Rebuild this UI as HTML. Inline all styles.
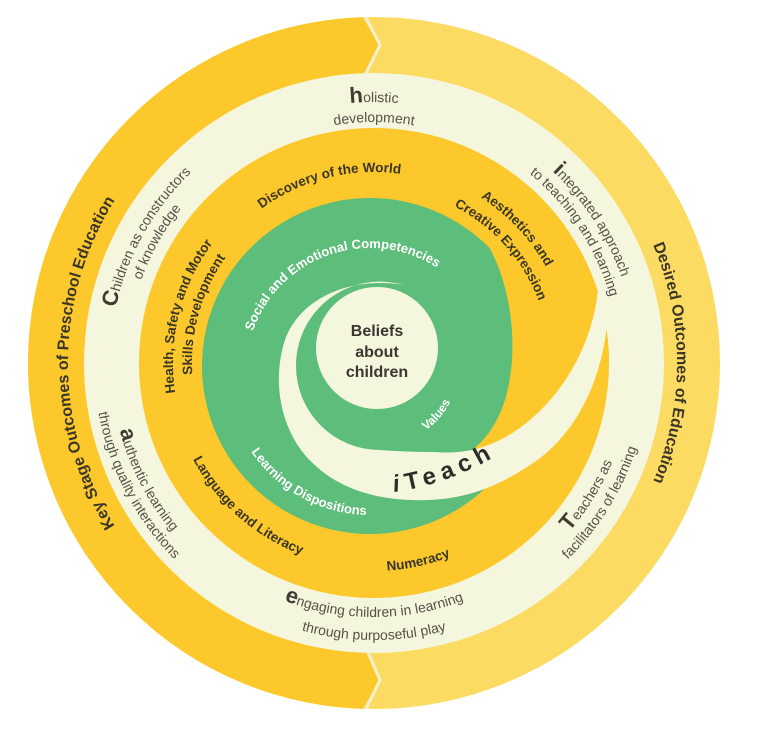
<!DOCTYPE html>
<html><head><meta charset="utf-8"><style>
html,body{margin:0;padding:0;background:#fff;}
svg{display:block;}
.ob{font-family:"Liberation Sans",sans-serif;font-weight:bold;fill:#3a3626;}
.cr{font-family:"Liberation Sans",sans-serif;fill:#555248;font-size:14px;}
.cr .big{font-weight:bold;font-size:22px;fill:#3e3b31;}
.yb{font-family:"Liberation Sans",sans-serif;font-weight:bold;fill:#3a3626;font-size:13.5px;}
.gt{font-family:"Liberation Sans",sans-serif;font-weight:bold;fill:#ffffff;font-size:13px;}
</style></head><body>
<svg width="764" height="733" viewBox="0 0 764 733" xmlns="http://www.w3.org/2000/svg">
<defs>
<clipPath id="outer"><circle cx="374" cy="363" r="346"/></clipPath>
<clipPath id="inner235"><circle cx="374" cy="363" r="235"/></clipPath>
<path id="cw306" d="M374,669 A306,306 0 1 1 374,57 A306,306 0 1 1 374,669"/>
<path id="cw303" d="M374,666 A303,303 0 1 1 374,60 A303,303 0 1 1 374,666"/>
<path id="cw262" d="M374,625 A262,262 0 1 1 374,101 A262,262 0 1 1 374,625"/>
<path id="cw245" d="M374,608 A245,245 0 1 1 374,118 A245,245 0 1 1 374,608"/>
<path id="cw261" d="M374,624 A261,261 0 1 1 374,102 A261,261 0 1 1 374,624"/>
<path id="cw241" d="M374,604 A241,241 0 1 1 374,122 A241,241 0 1 1 374,604"/>
<path id="cw264" d="M374,627 A264,264 0 1 1 374,99 A264,264 0 1 1 374,627"/>
<path id="cw247" d="M374,610 A247,247 0 1 1 374,116 A247,247 0 1 1 374,610"/>
<path id="cw191" d="M374,554 A191,191 0 1 1 374,172 A191,191 0 1 1 374,554"/>
<path id="cw197" d="M374,560 A197,197 0 1 1 374,166 A197,197 0 1 1 374,560"/>
<path id="cw176" d="M374,539 A176,176 0 1 1 374,187 A176,176 0 1 1 374,539"/>
<path id="cw201" d="M374,564 A201,201 0 1 1 374,162 A201,201 0 1 1 374,564"/>
<path id="cw182" d="M374,545 A182,182 0 1 1 374,181 A182,182 0 1 1 374,545"/>
<path id="cwg124" d="M370,496 A124,124 0 1 1 370,248 A124,124 0 1 1 370,496"/>
<path id="ccw263" d="M374,100 A263,263 0 1 0 374,626 A263,263 0 1 0 374,100"/>
<path id="ccw280" d="M374,83 A280,280 0 1 0 374,643 A280,280 0 1 0 374,83"/>
<path id="ccw254" d="M374,109 A254,254 0 1 0 374,617 A254,254 0 1 0 374,109"/>
<path id="ccw277" d="M374,86 A277,277 0 1 0 374,640 A277,277 0 1 0 374,86"/>
<path id="ccw258" d="M374,105 A258,258 0 1 0 374,621 A258,258 0 1 0 374,105"/>
<path id="ccw276" d="M374,87 A276,276 0 1 0 374,639 A276,276 0 1 0 374,87"/>
<path id="ccw205" d="M374,158 A205,205 0 1 0 374,568 A205,205 0 1 0 374,158"/>
<path id="ccw208" d="M374,155 A208,208 0 1 0 374,571 A208,208 0 1 0 374,155"/>
<path id="ccwg143" d="M370,229 A143,143 0 1 0 370,515 A143,143 0 1 0 370,229"/>
<path id="ccwv79" d="M380,287 A79,79 0 1 0 380,445 A79,79 0 1 0 380,287"/>
<path id="iteachp" d="M394,492 Q455,484 515,444"/>
</defs>

<g clip-path="url(#outer)">
  <rect x="0" y="0" width="764" height="733" fill="#FCDB63"/>
  <polygon points="0,0 362,0 362,17 380,45 365,73 366,652 380,680 363,708 363,733 0,733" fill="#FCC82C"/>
  <polyline points="362,10 380,45 365,75" fill="none" stroke="#F4F1CF" stroke-width="3"/>
  <polyline points="367,650 380,680 363,715" fill="none" stroke="#F4F1CF" stroke-width="3"/>
</g>
<circle cx="374" cy="363" r="290" fill="#F4F6DE"/>
<circle cx="374" cy="363" r="235" fill="#FCC82C"/>
<circle cx="370" cy="366" r="168" fill="#5DBD7A"/>
<path clip-path="url(#inner235)" d="M440,198 C492,222 516,295 512,360 C509,402 496,432 470,452 L560,430 L650,300 L620,170 Z" fill="#FCC82C"/>
<circle cx="380" cy="366" r="84" fill="#5DBD7A"/>
<path d="M405,285 C350,276 300,298 285,340 C272,380 280,425 305,455 C335,490 380,502 430,500 C470,498 500,485 530,465 C570,440 600,390 607,325 L598,290 C592,345 565,390 530,420 C500,445 470,455 435,452 C415,452 395,451 380,450 A84,84 0 0 1 296,366 A84,84 0 0 1 395,283 L405,285 Z" fill="#F4F6DE"/>
<circle cx="377" cy="348" r="61" fill="#F4F6DE"/>

<text class="ob" font-size="16"><textPath href="#cw306" startOffset="25%" text-anchor="middle">Key Stage Outcomes of Preschool Education</textPath></text>
<text class="ob" font-size="16"><textPath href="#cw303" startOffset="75%" text-anchor="middle">Desired Outcomes of Education</textPath></text>

<text class="cr"><textPath href="#cw261" startOffset="50%" text-anchor="middle"><tspan class="big">h</tspan>olistic</textPath></text>
<text class="cr"><textPath href="#cw241" startOffset="50%" text-anchor="middle">development</textPath></text>
<text class="cr"><textPath href="#cw262" startOffset="65.8%" text-anchor="middle"><tspan class="big">i</tspan>ntegrated approach</textPath></text>
<text class="cr"><textPath href="#cw245" startOffset="65.8%" text-anchor="middle">to teaching and learning</textPath></text>
<text class="cr"><textPath href="#cw264" startOffset="33.1%" text-anchor="middle"><tspan class="big">C</tspan>hildren as constructors</textPath></text>
<text class="cr"><textPath href="#cw247" startOffset="33.1%" text-anchor="middle">of knowledge</textPath></text>
<text class="cr"><textPath href="#ccw263" startOffset="32.6%" text-anchor="middle"><tspan class="big">a</tspan>uthentic learning</textPath></text>
<text class="cr"><textPath href="#ccw280" startOffset="32.6%" text-anchor="middle">through quality interactions</textPath></text>
<text class="cr"><textPath href="#ccw254" startOffset="50%" text-anchor="middle"><tspan class="big">e</tspan>ngaging children in learning</textPath></text>
<text class="cr"><textPath href="#ccw277" startOffset="50%" text-anchor="middle">through purposeful play</textPath></text>
<text class="cr"><textPath href="#ccw258" startOffset="66.2%" text-anchor="middle"><tspan class="big">T</tspan>eachers as</textPath></text>
<text class="cr"><textPath href="#ccw276" startOffset="66.2%" text-anchor="middle">facilitators of learning</textPath></text>

<text class="yb"><textPath href="#cw191" startOffset="46.1%" text-anchor="middle">Discovery of the World</textPath></text>
<text class="yb"><textPath href="#cw197" startOffset="63%" text-anchor="middle">Aesthetics and</textPath></text>
<text class="yb"><textPath href="#cw176" startOffset="63.4%" text-anchor="middle">Creative Expression</textPath></text>
<text class="yb"><textPath href="#cw201" startOffset="28.9%" text-anchor="middle">Health, Safety and Motor</textPath></text>
<text class="yb"><textPath href="#cw182" startOffset="29.4%" text-anchor="middle">Skills Development</textPath></text>
<text class="yb"><textPath href="#ccw205" startOffset="38.5%" text-anchor="middle">Language and Literacy</textPath></text>
<text class="yb"><textPath href="#ccw208" startOffset="53.5%" text-anchor="middle">Numeracy</textPath></text>

<text class="gt"><textPath href="#cwg124" startOffset="44.7%" text-anchor="middle">Social and Emotional Competencies</textPath></text>
<text class="gt"><textPath href="#ccwg143" startOffset="42%" text-anchor="middle">Learning Dispositions</textPath></text>
<text class="gt" style="font-size:12px"><textPath href="#ccwv79" startOffset="63.7%" text-anchor="middle">Values</textPath></text>

<text font-family="Liberation Sans, sans-serif" font-weight="bold" font-size="24" fill="#2e2c26" letter-spacing="6"><textPath href="#iteachp" startOffset="0"><tspan font-style="italic">i</tspan>Teach</textPath></text>

<g font-family="Liberation Sans, sans-serif" font-weight="bold" font-size="16" fill="#3a3630" text-anchor="middle">
<text x="377" y="336">Beliefs</text>
<text x="377" y="357">about</text>
<text x="377" y="377">children</text>
</g>
</svg>
</body></html>
